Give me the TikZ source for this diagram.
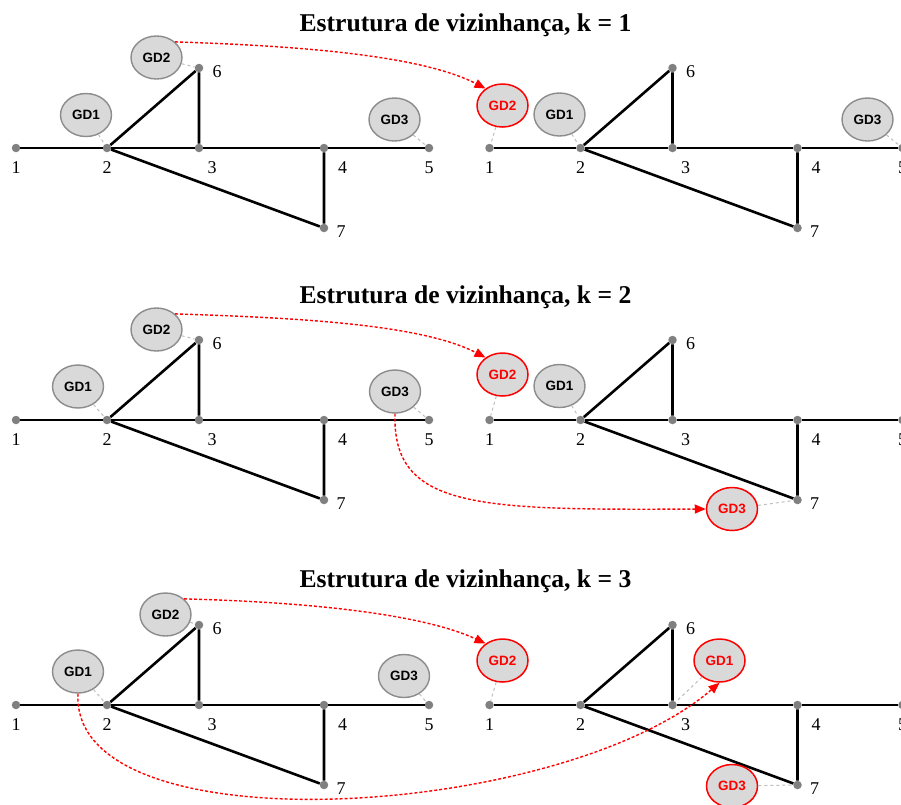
\documentclass[tikz,border=0pt]{standalone}
\usepackage{fontspec}
\setmainfont{Liberation Serif}
\newfontfamily\gdfont{Liberation Sans}
\usetikzlibrary{shapes.geometric,arrows.meta}
\definecolor{busgray}{HTML}{808080}
\definecolor{gdfill}{HTML}{D9D9D9}
\definecolor{gdline}{HTML}{8C8C8C}
\definecolor{linkgray}{HTML}{BFBFBF}
\tikzset{
  bus/.style={circle, fill=busgray, inner sep=0pt, minimum size=8.5pt},
  wire/.style={line width=2.6pt, black},
  num/.style={font=\fontsize{18}{18}\selectfont, anchor=base, inner sep=0pt},
  gd/.style={ellipse, draw=gdline, fill=gdfill, line width=1.4pt, minimum width=51pt, minimum height=43pt, inner sep=0pt, font=\gdfont\bfseries\fontsize{13.5}{13.5}\selectfont},
  gdnew/.style={gd, draw=red, text=red, line width=1.5pt},
  link/.style={linkgray, dashed, line width=1pt},
  move/.style={red, line width=1.4pt, dash pattern=on 3pt off 2pt, -{Triangle[length=11pt,width=9pt]}},
  ttl/.style={font=\bfseries\fontsize{25.6}{25.6}\selectfont, anchor=base, inner sep=0pt}
}
\newcommand{\drawnet}[3]{%
  \begin{scope}[shift={(#2,#3)}]
    \node[bus] (#1-1) at (16,148) {};
    \node[bus] (#1-2) at (107,148) {};
    \node[bus] (#1-3) at (199,148) {};
    \node[bus] (#1-4) at (324,148) {};
    \node[bus] (#1-5) at (429,148) {};
    \node[bus] (#1-6) at (199,68) {};
    \node[bus] (#1-7) at (324,228) {};
    \draw[wire] (#1-1) -- (#1-2) -- (#1-3) -- (#1-4) -- (#1-5);
    \draw[wire] (#1-2) -- (#1-6) -- (#1-3);
    \draw[wire] (#1-2) -- (#1-7) -- (#1-4);
    \node[num] (#1-l1) at (16,173.5) {1};
    \node[num] (#1-l2) at (107,173.5) {2};
    \node[num] (#1-l3) at (212,173.5) {3};
    \node[num] (#1-l4) at (342.5,173.5) {4};
    \node[num] (#1-l5) at (429,173.5) {5};
    \node[num] (#1-l6) at (217,77.3) {6};
    \node[num] (#1-l7) at (341,237) {7};
  \end{scope}}
\begin{document}
\begin{tikzpicture}[x=1pt,y=-1pt]
\useasboundingbox (0,0) rectangle (901,804);
\fill[white] (0,0) rectangle (901,804);

% ---------- k = 1 ----------
\node[ttl] (t1) at (465.5,31) {Estrutura de vizinhança, k = 1};
\drawnet{A}{0}{0}
\drawnet{B}{473.5}{0}
\node[gd] (A-gd1) at (86,115) {GD1};
\node[gd] (A-gd2) at (156.5,57.5) {GD2};
\node[gd] (A-gd3) at (394.5,119.5) {GD3};
\node[gdnew] (B-gd2) at (502.5,105.5) {GD2};
\node[gd] (B-gd1) at (559.5,114.5) {GD1};
\node[gd] (B-gd3) at (867.5,119.5) {GD3};
\draw[link] (A-gd1) -- (A-2);
\draw[link] (A-gd2) -- (A-6);
\draw[link] (A-gd3) -- (A-5);
\draw[link] (B-gd2) -- (B-1);
\draw[link] (B-gd1) -- (B-2);
\draw[link] (B-gd3) -- (B-5);
\draw[move] (A-gd2.40) .. controls +(126,4) and +(-64,-33) .. (B-gd2.135);

% ---------- k = 2 ----------
\node[ttl] (t2) at (465.5,303) {Estrutura de vizinhança, k = 2};
\drawnet{C}{0}{272}
\drawnet{D}{473.5}{272}
\node[gd] (C-gd1) at (78,386.5) {GD1};
\node[gd] (C-gd2) at (156.5,329.5) {GD2};
\node[gd] (C-gd3) at (395,391.5) {GD3};
\node[gdnew] (D-gd2) at (502.5,374.5) {GD2};
\node[gd] (D-gd1) at (559.5,386) {GD1};
\node[gdnew] (D-gd3) at (732,509) {GD3};
\draw[link] (C-gd1) -- (C-2);
\draw[link] (C-gd2) -- (C-6);
\draw[link] (C-gd3) -- (C-5);
\draw[link] (D-gd2) -- (D-1);
\draw[link] (D-gd1) -- (D-2);
\draw[link] (D-gd3) -- (D-7);
\draw[move] (C-gd2.40) .. controls +(126,4) and +(-64,-33) .. (D-gd2.135);
\draw[move] (C-gd3.south) .. controls +(-3,96) and +(-227,1) .. (D-gd3.west);

% ---------- k = 3 ----------
\node[ttl] (t3) at (465.5,587) {Estrutura de vizinhança, k = 3};
\drawnet{E}{0}{557}
\drawnet{F}{473.5}{557}
\node[gd] (E-gd1) at (78,671.5) {GD1};
\node[gd] (E-gd2) at (165.5,614.5) {GD2};
\node[gd] (E-gd3) at (404,676) {GD3};
\node[gdnew] (F-gd2) at (502.5,660.5) {GD2};
\node[gdnew] (F-gd1) at (719.5,660.5) {GD1};
\node[gdnew] (F-gd3) at (732,786) {GD3};
\draw[link] (E-gd1) -- (E-2);
\draw[link] (E-gd2) -- (E-6);
\draw[link] (E-gd3) -- (E-5);
\draw[link] (F-gd2) -- (F-1);
\draw[link] (F-gd1) -- (F-3);
\draw[link] (F-gd3) -- (F-7);
\draw[move] (E-gd2.40) .. controls +(120,3) and +(-64,-30) .. (F-gd2.135);
\draw[move] (E-gd1.south) .. controls +(-8,156) and +(-159,137) .. (F-gd1.south);
\end{tikzpicture}
\end{document}
